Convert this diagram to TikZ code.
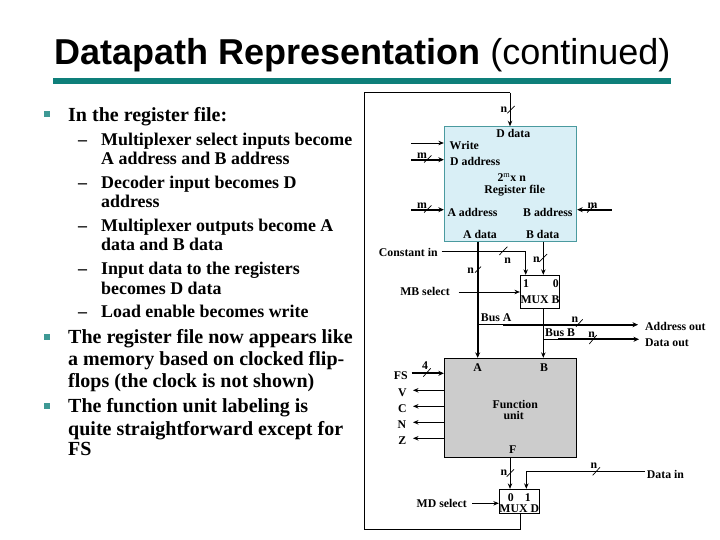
\documentclass[tikz,border=0pt]{standalone}
\usepackage{fontspec}
\setmainfont{Liberation Serif}
\newfontfamily\titlefont{Liberation Sans}
\usetikzlibrary{arrows.meta}
\definecolor{tealbar}{HTML}{0E7F7A}
\definecolor{regfill}{HTML}{D9EFF6}
\definecolor{regline}{HTML}{4A9A9F}
\definecolor{fugrey}{HTML}{CCCCCC}
\tikzset{
  lbl/.style={inner sep=0pt,yshift=-1.5pt,font=\fontsize{11.8}{12}\selectfont\bfseries,anchor=mid},
  lblw/.style={lbl,anchor=mid west},
  body/.style={inner sep=0pt,anchor=base west,font=\fontsize{17.9}{19}\selectfont\bfseries},
  bodybig/.style={inner sep=0pt,anchor=base west,font=\fontsize{20}{21}\selectfont\bfseries},
  wire/.style={line width=0.9pt,-{Stealth[length=5.5pt,width=4.5pt]}},
  plain/.style={line width=0.9pt},
  thick wire/.style={line width=1.7pt,-{Stealth[length=5.5pt,width=5pt]}},
  tick/.style={line width=0.7pt},
  sq/.style={fill=tealbar!80!white,minimum size=6pt,inner sep=0pt},
}
\begin{document}
\begin{tikzpicture}[x=1pt,y=-1pt]
\useasboundingbox (0,0) rectangle (720,540);
% title
\node[inner sep=0pt,anchor=base west,font=\titlefont\fontsize{36}{40}\selectfont] (title) at (54,65) {\textbf{Datapath Representation} (continued)};
\fill[tealbar] (53,78.3) rectangle (671,84);
% left text
\node[sq] (b1) at (47,114.5) {};
\node[bodybig] (t1) at (68,122) {In the register file:};
\foreach \y/\d/\t in {
 145.5/1/Multiplexer select inputs become,
 164.5/0/A address and B address,
 188.5/1/Decoder input becomes D,
 207.5/0/address,
 231.5/1/Multiplexer outputs become A,
 251/0/data and B data,
 274.5/1/Input data to the registers,
 294/0/becomes D data,
 317.5/1/Load enable becomes write}{
  \node[body] at (101,\y) {\t};
  \ifnum\d=1 \node[body] at (78,\y) {--};\fi
}
\node[sq] (b2) at (47,337) {};
\node[sq] (b3) at (47,406) {};
\foreach \y/\t in {
 343.5/The register file now appears like,
 365.5/a memory based on clocked flip-,
 387.5/flops (the clock is not shown)}{\node[bodybig] at (68,\y) {\t};}
\foreach \y/\t in {
 412.5/The function unit labeling is,
 435.5/quite straightforward except for,
 455.5/FS}{\node[bodybig] at (68,\y) {\t};}

% boxes
\node[draw=regline,fill=regfill,line width=0.9pt,minimum width=132.4pt,minimum height=115pt,inner sep=0pt] (reg) at (510.5,184.2) {};
\node[draw=black,fill=fugrey,line width=0.9pt,minimum width=132.4pt,minimum height=99pt,inner sep=0pt] (fu) at (510.5,407.8) {};
\node[draw=black,fill=white,line width=0.9pt,minimum width=38.7pt,minimum height=33.4pt,inner sep=0pt] (muxb) at (539.7,292) {};
\node[draw=black,fill=white,line width=0.9pt,minimum width=40pt,minimum height=24pt,inner sep=0pt] (muxd) at (519.3,501.3) {};

% free ends
\coordinate (top) at (510,92.7);
\coordinate (cornerTL) at (364.3,92.7);
\coordinate (cornerBL) at (364.3,529.3);
\coordinate (muxdout) at (520.7,529.3);
\coordinate (write) at (411,143);
\coordinate (daddr) at (411,159.7);
\coordinate (aaddr) at (411,209.7);
\coordinate (baddr) at (611.7,209.7);
\coordinate (adata) at (477.7,241.7);
\coordinate (bdata) at (543.3,241.7);
\coordinate (const) at (441.7,251.3);
\coordinate (mbsel) at (458.7,292);
\coordinate (busA) at (477.7,324.7);
\coordinate (busAj) at (503,324.7);
\coordinate (busAe) at (638,324.7);
\coordinate (busB) at (543.3,339.3);
\coordinate (busBj) at (558,339.3);
\coordinate (busBe) at (639,339.3);
\coordinate (fs) at (411.7,373.3);
\coordinate (v) at (413,390.3);
\coordinate (c) at (413,406.3);
\coordinate (n) at (413,422.3);
\coordinate (z) at (413,438.3);
\coordinate (fout) at (510,457.3);
\coordinate (datain) at (645,471.3);
\coordinate (mdsel) at (472.3,503.3);

% connectors
\draw[plain] (muxd.south -| muxdout) -- (muxdout) -- (cornerBL) -- (cornerTL) -- (top);
\draw[wire] (top) -- (top |- reg.north);
\draw[wire] (write) -- (write -| reg.west);
\draw[thick wire] (daddr) -- (daddr -| reg.west);
\draw[thick wire] (aaddr) -- (aaddr -| reg.west);
\draw[thick wire] (baddr) -- (baddr -| reg.east);
\draw[thick wire] (adata) -- (adata |- fu.north);
\draw[wire] (bdata) -- (bdata |- muxb.north);
\draw[wire] (const) -| ([xshift=-14pt]muxb.north);
\draw[wire] (mbsel) -- (mbsel -| muxb.west);
\draw[wire] (bdata |- muxb.south) -- (bdata |- fu.north);
\draw[plain] (busA) -- (busAj);
\draw[thick wire] (busAj) -- (busAe);
\draw[plain] (busB) -- (busBj);
\draw[thick wire] (busBj) -- (busBe);
\draw[thick wire] (fs) -- (fs -| fu.west);
\draw[wire] (v -| fu.west) -- (v);
\draw[wire] (c -| fu.west) -- (c);
\draw[wire] (n -| fu.west) -- (n);
\draw[wire] (z -| fu.west) -- (z);
\draw[wire] (fout) -- (fout |- muxd.north);
\draw[wire] (datain) -| ([xshift=7pt]muxd.north);
\draw[wire] (mdsel) -- (mdsel -| muxd.west);

% bus-width ticks
\draw[tick] (507.3,113.3) -- (514.7,106);
\draw[tick] (424,162.5) -- (431.5,155.5);
\draw[tick] (424,212.5) -- (431.5,205.5);
\draw[tick] (587,212.5) -- (594.5,205.5);
\draw[tick] (499.3,255) -- (507.3,246.7);
\draw[tick] (539,262) -- (547,254);
\draw[tick] (475,272.7) -- (481,266.7);
\draw[tick] (576,326.7) -- (582.7,319.3);
\draw[tick] (589.3,344) -- (596.7,335);
\draw[tick] (423.3,376.7) -- (430.7,368.3);
\draw[tick] (506.7,476.7) -- (514,469.3);
\draw[tick] (592.7,475.3) -- (600,467.3);

% labels
\node[lbl] (ln1) at (504,108.5) {n};
\node[lbl] (ld) at (513.3,134) {D data};
\node[lbl] (lw) at (464.3,146) {Write};
\node[lblw] (lda) at (450,162) {D address};
\node[lbl] (l2m) at (511.7,178) {2$^{\mathrm{m}}$x n};
\node[lbl] (lrf) at (514.7,189.3) {Register file};
\node[lblw] (laa) at (447.3,212.3) {A address};
\node[lblw] (lba) at (523,212.3) {B address};
\node[lbl] (lad) at (480,235) {A data};
\node[lbl] (lbd) at (542.7,235) {B data};
\node[lbl] (lm1) at (422,154.5) {m};
\node[lbl] (lm2) at (422,204.5) {m};
\node[lbl] (lm3) at (592.5,204.5) {m};
\node[lbl] (lci) at (408.3,252.3) {Constant in};
\node[lbl] (ln2) at (507.7,259.3) {n};
\node[lbl] (ln3) at (536.5,258.7) {n};
\node[lbl] (ln4) at (470.7,270) {n};
\node[lbl] (lmb) at (425,292) {MB select};
\node[lbl] (l1) at (526,283.7) {1};
\node[lbl] (l0) at (555.7,283.7) {0};
\node[lbl] (lmxb) at (540,299.3) {MUX B};
\node[lblw] (lba2) at (480.7,317.5) {Bus A};
\node[lblw] (lbb2) at (545,332.3) {Bus B};
\node[lbl] (ln5) at (575,318.5) {n};
\node[lbl] (ln6) at (591.7,334) {n};
\node[lblw] (lao) at (645,326.7) {Address out};
\node[lblw] (ldo) at (645,342.3) {Data out};
\node[lbl] (la) at (477.7,367.3) {A};
\node[lbl] (lb) at (544,367.3) {B};
\node[lbl] (lfs) at (400.7,376) {FS};
\node[lbl] (l4) at (425,365.5) {4};
\node[lbl] (lv) at (402.3,392.7) {V};
\node[lbl] (lc) at (402.3,409) {C};
\node[lbl] (ln) at (402,424.7) {N};
\node[lbl] (lz) at (402.3,440.7) {Z};
\node[lbl] (lfn) at (515.3,405) {Function};
\node[lbl] (lun) at (513.7,415.3) {unit};
\node[lbl] (lf) at (512.7,449.7) {F};
\node[lbl] (ln7) at (504,472) {n};
\node[lbl] (ln8) at (594,465) {n};
\node[lblw] (ldi) at (646.7,474.3) {Data in};
\node[lbl] (lmd) at (441.7,504) {MD select};
\node[lbl] (l02) at (510.7,497.7) {0};
\node[lbl] (l12) at (527.7,497.7) {1};
\node[lbl] (lmxd) at (519.3,508.3) {MUX D};
\end{tikzpicture}
\end{document}
